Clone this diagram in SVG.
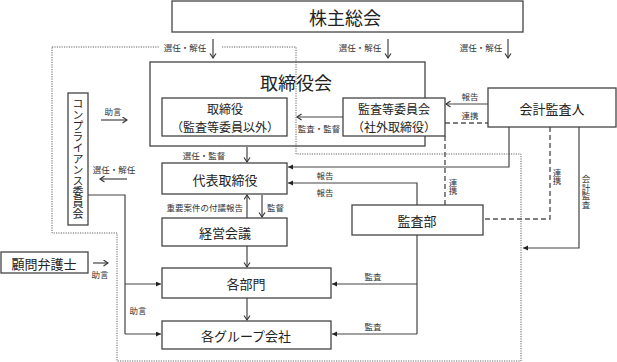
<svg xmlns="http://www.w3.org/2000/svg" width="617" height="362" viewBox="0 0 617 362">
<style>
.box{fill:#fff;stroke:#444;stroke-width:1.3}
.t{font-family:"Noto Sans CJK JP","Noto Sans CJK SC",sans-serif;fill:#222;text-anchor:middle;dominant-baseline:central}
.big{font-size:18px}
.mid{font-size:13px}
.two{font-size:12px}
.sm{font-size:8.5px;fill:#333}
.v{writing-mode:vertical-rl;text-orientation:upright}
.ln{fill:none;stroke:#444;stroke-width:1.2}
.dash{fill:none;stroke:#555;stroke-width:1.4;stroke-dasharray:5 3}
.dot{fill:none;stroke:#666;stroke-width:1;stroke-dasharray:1.2 1.2}
.oa{marker-end:url(#open)}
.fa{marker-end:url(#fill)}
</style>
<defs>
<marker id="open" markerWidth="8" markerHeight="8" refX="5" refY="3.5" orient="auto" markerUnits="userSpaceOnUse">
<path d="M0.5,0.5 L5,3.5 L0.5,6.5" fill="none" stroke="#333" stroke-width="1.1"/>
</marker>
<marker id="fill" markerWidth="6" markerHeight="6" refX="5" refY="2.5" orient="auto" markerUnits="userSpaceOnUse">
<path d="M0,0 L5,2.5 L0,5 z" fill="#222"/>
</marker>
</defs>

<g id="connectors">
<path class="dot" d="M52,47 H160 M222,47 H296 V154 H521 V361 H117 V233 H52 V47"/>
<line class="ln oa" x1="213" y1="39" x2="213" y2="58"/>
<line class="ln oa" x1="388" y1="39" x2="388" y2="58"/>
<line class="ln oa" x1="508" y1="39" x2="508" y2="58"/>
<line class="ln oa" x1="488" y1="104" x2="446" y2="104"/>
<line class="dash" x1="445" y1="123" x2="488" y2="123"/>
<line class="dash" x1="445" y1="136" x2="445" y2="205"/>
<line class="ln oa" x1="343" y1="117" x2="297" y2="117"/>
<line class="ln oa" x1="247" y1="147" x2="247" y2="162"/>
<path class="ln fa" d="M509,127 V167 H288"/>
<path class="ln fa" d="M417,205 V183 H288"/>
<line class="ln oa" x1="247" y1="218" x2="247" y2="195"/>
<line class="ln oa" x1="262" y1="195" x2="262" y2="217"/>
<line class="ln oa" x1="247" y1="246" x2="247" y2="267"/>
<line class="ln oa" x1="247" y1="298" x2="247" y2="320"/>
<path class="ln" d="M417,235 V334"/>
<path class="ln fa" d="M417,284 H332"/>
<path class="ln fa" d="M417,334 H332"/>
<path class="dash" d="M550,127 V219 H483"/>
<path class="ln fa" d="M579,127 V248 H523"/>
<line class="ln oa" x1="101" y1="120" x2="127" y2="120"/>
<line class="ln oa" x1="127" y1="179" x2="100" y2="179"/>
<path class="ln" d="M88,195 H125 V334"/>
<path class="ln fa" d="M125,284 H161"/>
<path class="ln fa" d="M125,334 H161"/>
<line class="ln oa" x1="93" y1="263" x2="108" y2="263"/>

<text class="t sm" x="185" y="47">選任・解任</text>
<text class="t sm" x="360" y="47">選任・解任</text>
<text class="t sm" x="481" y="47">選任・解任</text>
<text class="t sm" x="470" y="96">報告</text>
<text class="t sm" x="470" y="115">連携</text>
<text class="t sm" x="319" y="128">監査・監督</text>
<text class="t sm" x="204" y="155">選任・監督</text>
<text class="t sm" x="325" y="175">報告</text>
<text class="t sm" x="325" y="192">報告</text>
<text class="t sm" x="243" y="207" style="text-anchor:end">重要案件の付議報告</text>
<text class="t sm" x="267" y="207" style="text-anchor:start">監督</text>
<text class="t sm v" x="453" y="187">連携</text>
<text class="t sm v" x="557" y="177">連携</text>
<text class="t sm v" x="586" y="192">会計監査</text>
<text class="t sm" x="373" y="276">監査</text>
<text class="t sm" x="373" y="326">監査</text>
<text class="t sm" x="113" y="111">助言</text>
<text class="t sm" x="114" y="169">選任・解任</text>
<text class="t sm" x="138" y="310">助言</text>
<text class="t sm" x="100" y="274">助言</text>
</g>

<g id="shareholders">
<rect class="box" x="172" y="1" width="351" height="31"/>
<text class="t big" x="345" y="17">株主総会</text>
</g>
<g id="board">
<rect class="box" x="150" y="62" width="275" height="84" style="fill:none"/>
<text class="t big" x="296" y="82">取締役会</text>
</g>
<g id="directors">
<rect class="box" x="162" y="98" width="125" height="38"/>
<text class="t two" x="225" y="108">取締役</text>
<text class="t two" x="225" y="126">（監査等委員以外）</text>
</g>
<g id="audit-committee">
<rect class="box" x="343" y="98" width="102" height="38"/>
<text class="t two" x="394" y="108">監査等委員会</text>
<text class="t two" x="394" y="126">（社外取締役）</text>
</g>
<g id="accounting-auditor">
<rect class="box" x="488" y="88" width="128" height="39"/>
<text class="t mid" x="552" y="108">会計監査人</text>
</g>
<g id="representative">
<rect class="box" x="162" y="163" width="125" height="31"/>
<text class="t mid" x="225" y="179">代表取締役</text>
</g>
<g id="management-meeting">
<rect class="box" x="162" y="218" width="125" height="28"/>
<text class="t mid" x="225" y="232">経営会議</text>
</g>
<g id="departments">
<rect class="box" x="162" y="268" width="169" height="30"/>
<text class="t mid" x="246" y="283">各部門</text>
</g>
<g id="group-companies">
<rect class="box" x="162" y="321" width="169" height="28"/>
<text class="t mid" x="246" y="335">各グループ会社</text>
</g>
<g id="internal-audit">
<rect class="box" x="352" y="205" width="131" height="30"/>
<text class="t mid" x="417" y="220">監査部</text>
</g>
<g id="compliance">
<rect class="box" x="68" y="93" width="20" height="132"/>
<text class="t v" x="78" y="159" style="font-size:11px">コンプライアンス委員会</text>
</g>
<g id="lawyer">
<rect class="box" x="1" y="252" width="87" height="21"/>
<text class="t mid" x="44" y="263">顧問弁護士</text>
</g>
</svg>
